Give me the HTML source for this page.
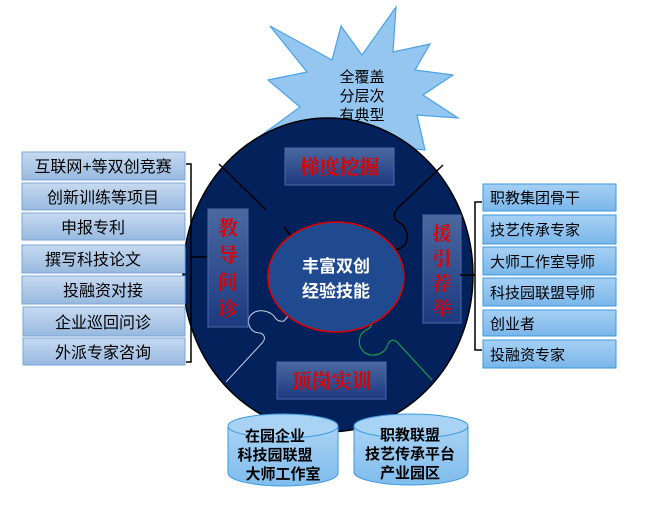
<!DOCTYPE html>
<html><head><meta charset="utf-8"><style>
html,body{margin:0;padding:0;background:#fff;}
svg{display:block;}
text{font-family:"Liberation Sans","Noto Sans CJK SC",sans-serif;}
.s{font-family:"Noto Serif CJK SC","Noto Sans CJK SC",serif;font-weight:bold;fill:#e00000;}
</style></head><body>
<svg width="645" height="506" viewBox="0 0 645 506" xmlns="http://www.w3.org/2000/svg">
<defs>
<linearGradient id="bx" x1="0" y1="0" x2="0" y2="1"><stop offset="0" stop-color="#c7daf0"/><stop offset="1" stop-color="#97b9e0"/></linearGradient>
<linearGradient id="rb" x1="0" y1="0" x2="0" y2="1"><stop offset="0" stop-color="#a6d0f4"/><stop offset="1" stop-color="#7ab6ea"/></linearGradient>
<linearGradient id="lb" x1="0" y1="0" x2="0" y2="1"><stop offset="0" stop-color="#4a68a0"/><stop offset="1" stop-color="#1d3a80"/></linearGradient>
<linearGradient id="cy" x1="0" y1="0" x2="0" y2="1"><stop offset="0" stop-color="#a9d3f5"/><stop offset="1" stop-color="#7fbcec"/></linearGradient>
</defs>
<polygon points="270,26 332,60 341,26 362,55 396,7 393,52 430,44 415,70 453,75 423,95 458,118 417,115 425,150 330,140 255,140 300,107 268,80 307,72" fill="#94c6f0" stroke="#4aa3e6" stroke-width="1.2"/>
<text x="362" y="82" font-size="15" text-anchor="middle">全覆盖</text>
<text x="362" y="101" font-size="15" text-anchor="middle">分层次</text>
<text x="362" y="120" font-size="15" text-anchor="middle">有典型</text>
<ellipse cx="328" cy="275" rx="145" ry="157" fill="#03215b" stroke="#000" stroke-width="1.5"/>
<path d="M219,164 L266,210 M284,227 L291,236" stroke="#000" stroke-width="1.5" fill="none"/>
<path d="M443,165 L398,208 C392,214 394,220 400,223 C410,230 410,246 398,249 C388,252 380,245 378,240 L372,232" stroke="#000" stroke-width="1.5" fill="none"/>
<path d="M226,382 L263,342 C266,338 264,334 260,333 C250,333 246,322 250,316 C256,308 268,310 274,316 C276,320 279,322 284,321 L289,315" stroke="#c8d0e0" stroke-width="1" fill="none"/>
<path d="M432,380 L397,342 C393,339 390,340 388,344 C385,355 372,358 364,352 C357,346 358,334 366,330 C370,328 372,326 372,322 L372,315" stroke="#1a9a4a" stroke-width="1.2" fill="none"/>
<ellipse cx="336" cy="277" rx="68" ry="55" fill="#1f4a8f" stroke="#e00000" stroke-width="1.5"/>
<text x="336" y="272" font-size="17" fill="#fff" text-anchor="middle" font-weight="bold">丰富双创</text>
<text x="336" y="297" font-size="17" fill="#fff" text-anchor="middle" font-weight="bold">经验技能</text>
<rect x="285" y="148" width="109" height="37" fill="url(#lb)" stroke="#4a6aa8"/>
<text x="339.5" y="174" class="s" font-size="20" text-anchor="middle">梯度挖掘</text>
<rect x="277" y="362" width="109" height="37" fill="url(#lb)" stroke="#4a6aa8"/>
<text x="331.5" y="388" class="s" font-size="20" text-anchor="middle">顶岗实训</text>
<rect x="208" y="209" width="40" height="118" fill="url(#lb)" stroke="#4a6aa8"/>
<text x="228" y="235" class="s" font-size="20" text-anchor="middle">教</text>
<text x="228" y="262" class="s" font-size="20" text-anchor="middle">导</text>
<text x="228" y="289" class="s" font-size="20" text-anchor="middle">问</text>
<text x="228" y="316" class="s" font-size="20" text-anchor="middle">诊</text>
<rect x="423" y="215" width="38" height="108" fill="url(#lb)" stroke="#4a6aa8"/>
<text x="442" y="240" class="s" font-size="19" text-anchor="middle">援</text>
<text x="442" y="265" class="s" font-size="19" text-anchor="middle">引</text>
<text x="442" y="290" class="s" font-size="19" text-anchor="middle">荐</text>
<text x="442" y="315" class="s" font-size="19" text-anchor="middle">举</text>
<g stroke="#7aa6d8" stroke-width="1" fill="url(#bx)">
<rect x="22" y="152" width="163" height="28"/><rect x="22" y="183" width="163" height="27"/><rect x="22" y="213" width="163" height="27"/><rect x="22" y="245" width="163" height="28"/><rect x="22" y="276" width="163" height="28"/><rect x="23" y="307" width="162" height="29"/><rect x="23" y="338" width="162" height="27"/>
</g>
<g font-size="16" text-anchor="middle">
<text x="103" y="172">互联网+等双创竞赛</text><text x="103" y="203">创新训练等项目</text><text x="93" y="233">申报专利</text><text x="93" y="265">撰写科技论文</text><text x="103" y="296">投融资对接</text><text x="103" y="328">企业巡回问诊</text><text x="103" y="358">外派专家咨询</text>
</g>
<path d="M186,164 H191 V362 H186 M191,257 H207" stroke="#000" stroke-width="1.5" fill="none"/>
<g stroke="#3a9ae0" stroke-width="1" fill="url(#rb)">
<rect x="483" y="184" width="133" height="27"/><rect x="483" y="215" width="133" height="29"/><rect x="483" y="247" width="133" height="28"/><rect x="483" y="278" width="133" height="28"/><rect x="483" y="310" width="133" height="26"/><rect x="483" y="340" width="133" height="28"/>
</g>
<g font-size="15">
<text x="490" y="203">职教集团骨干</text><text x="490" y="235">技艺传承专家</text><text x="490" y="267">大师工作室导师</text><text x="490" y="298">科技园联盟导师</text><text x="490" y="329">创业者</text><text x="490" y="360">投融资专家</text>
</g>
<path d="M482,202 H475 V350 H482 M475,275 H460" stroke="#000" stroke-width="1.5" fill="none"/>
<g stroke="#3a9ae0" stroke-width="1">
<path d="M228,426 V473 A55,13 0 0 0 338,473 V426" fill="url(#cy)"/>
<ellipse cx="283" cy="426" rx="55" ry="12" fill="#a9d3f5"/>
<path d="M354,426 V472 A57,13 0 0 0 468,472 V426" fill="url(#cy)"/>
<ellipse cx="411" cy="426" rx="57" ry="12" fill="#a9d3f5"/>
</g>
<g font-size="15" font-weight="bold" text-anchor="middle">
<text x="275" y="441">在园企业</text><text x="275" y="460">科技园联盟</text><text x="283" y="479">大师工作室</text>
<text x="410" y="440">职教联盟</text><text x="410" y="459">技艺传承平台</text><text x="410" y="478">产业园区</text>
</g>
</svg>
</body></html>
